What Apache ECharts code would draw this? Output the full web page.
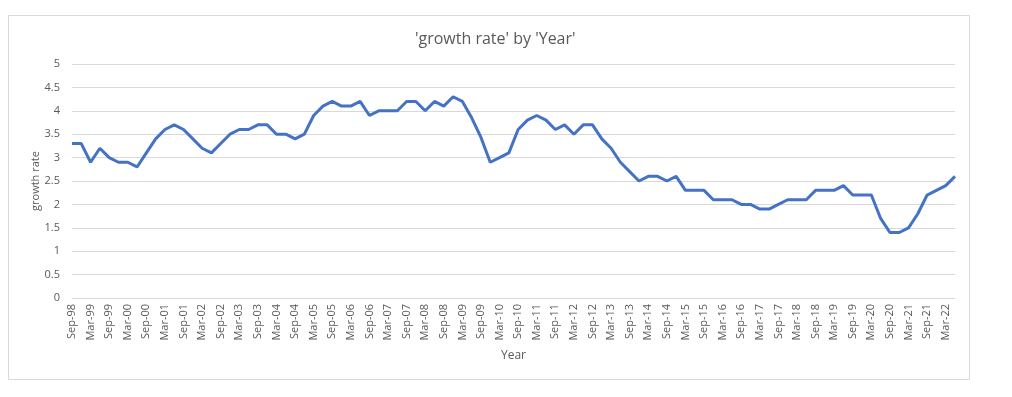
<!DOCTYPE html>
<html>
<head>
<meta charset="utf-8">
<script src="https://cdn.jsdelivr.net/npm/echarts@6/dist/echarts.min.js"></script>
<style>
  html, body { margin: 0; padding: 0; background: #fff; }
  #chart { width: 1012px; height: 397px; }
</style>
</head>
<body>
<div id="chart"></div>
<script>
// quarterly, Sep-98 .. Jun-22
const months = ['Mar', 'Jun', 'Sep', 'Dec']
const quarters = []
for (let y = 1998; y <= 2022; y++) {
  for (const m of months) {
    const yy = String(y % 100).padStart(2, '0')
    const label = m + '-' + yy
    if (y === 1998 && (m === 'Mar' || m === 'Jun')) continue
    if (y === 2022 && (m === 'Sep' || m === 'Dec')) continue
    quarters.push(label)
  }
}

const growthRate = [
  3.3, 3.3,
  2.9, 3.2, 3.0, 2.9,
  2.9, 2.8, 3.1, 3.4,
  3.6, 3.7, 3.6, 3.4,
  3.2, 3.1, 3.3, 3.5,
  3.6, 3.6, 3.7, 3.7,
  3.5, 3.5, 3.4, 3.5,
  3.9, 4.1, 4.2, 4.1,
  4.1, 4.2, 3.9, 4.0,
  4.0, 4.0, 4.2, 4.2,
  4.0, 4.2, 4.1, 4.3,
  4.2, 3.85, 3.43, 2.9,
  3.0, 3.1, 3.6, 3.8,
  3.9, 3.8, 3.6, 3.7,
  3.5, 3.7, 3.7, 3.4,
  3.2, 2.9, 2.7, 2.5,
  2.6, 2.6, 2.5, 2.6,
  2.3, 2.3, 2.3, 2.1,
  2.1, 2.1, 2.0, 2.0,
  1.9, 1.9, 2.0, 2.1,
  2.1, 2.1, 2.3, 2.3,
  2.3, 2.4, 2.2, 2.2,
  2.2, 1.7, 1.4, 1.4,
  1.5, 1.8, 2.2, 2.3,
  2.4, 2.6
]

const chart = echarts.init(document.getElementById('chart'))

const textColor = '#595959'
const font = '"Open Sans", "Noto Sans", sans-serif'

chart.setOption({
  animation: false,
  textStyle: { fontFamily: font },
  graphic: [{
    type: 'rect',
    shape: { x: 8.5, y: 15.5, width: 961, height: 364 },
    style: { fill: 'none', stroke: '#d9d9d9', lineWidth: 1 },
    silent: true
  }],
  title: {
    text: "'growth rate' by 'Year'",
    left: 410,
    top: 26,
    textStyle: { color: textColor, fontSize: 16, fontWeight: 'normal', fontFamily: font }
  },
  grid: {
    left: 72,
    top: 64,
    width: 883,
    height: 234,
    containLabel: false
  },
  xAxis: {
    type: 'category',
    data: quarters,
    boundaryGap: false,
    name: 'Year',
    nameLocation: 'middle',
    nameGap: 52,
    nameMoveOverlap: false,
    nameTextStyle: { color: textColor, fontSize: 12 },
    axisLine: { show: true, lineStyle: { color: '#d9d9d9' } },
    axisTick: { show: false },
    axisLabel: {
      interval: 1,
      rotate: 90,
      color: textColor,
      fontSize: 11,
      margin: 6
    },
    splitLine: { show: false }
  },
  yAxis: {
    type: 'value',
    min: 0,
    max: 5,
    interval: 0.5,
    name: 'growth rate',
    nameLocation: 'middle',
    nameGap: 31,
    nameMoveOverlap: false,
    nameTextStyle: { color: textColor, fontSize: 11 },
    axisLine: { show: false },
    axisTick: { show: false },
    axisLabel: { color: textColor, fontSize: 11, margin: 12 },
    splitLine: { lineStyle: { color: '#d9d9d9', width: 1 } }
  },
  series: [{
    type: 'line',
    data: growthRate,
    symbol: 'none',
    lineStyle: { color: '#4472c4', width: 3 },
    itemStyle: { color: '#4472c4' }
  }]
})
</script>
</body>
</html>
